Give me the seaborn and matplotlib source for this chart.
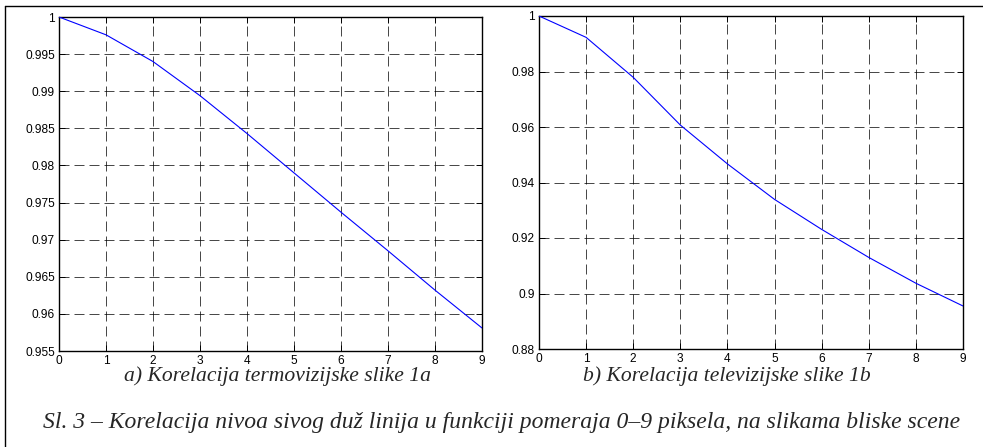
import numpy as np
import pandas as pd
import matplotlib
matplotlib.use("Agg")
import matplotlib.pyplot as plt
import seaborn as sns
from matplotlib.lines import Line2D
from matplotlib.ticker import FuncFormatter

sns.set_theme(style="white")
plt.rcParams['font.family'] = ['Liberation Sans', 'DejaVu Sans']

# Data
shift = [0, 1, 2, 3, 4, 5, 6, 7, 8, 9]
corr_thermal = [1.0, 0.9976, 0.9940, 0.9894, 0.9843, 0.9790, 0.9737, 0.9685, 0.9632, 0.9581]
corr_tv = [1.0, 0.9923, 0.9779, 0.9607, 0.9467, 0.9339, 0.9231, 0.9130, 0.9037, 0.8955]

yticks_a = [0.955, 0.96, 0.965, 0.97, 0.975, 0.98, 0.985, 0.99, 0.995, 1.0]
yticks_b = [0.88, 0.9, 0.92, 0.94, 0.96, 0.98, 1.0]
xticks = [0, 1, 2, 3, 4, 5, 6, 7, 8, 9]

caption_a = "a) Korelacija termovizijske slike 1a"
caption_b = "b) Korelacija televizijske slike 1b"
caption_main = "Sl. 3 – Korelacija nivoa sivog duž linija u funkciji pomeraja 0–9 piksela, na slikama bliske scene"

df_a = pd.DataFrame({"x": shift, "y": corr_thermal})
df_b = pd.DataFrame({"x": shift, "y": corr_tv})

W, H = 983, 447
fig = plt.figure(figsize=(W / 100, H / 100), dpi=100)
fig.patch.set_facecolor("white")

def rect(x0, x1, ytop, ybot):
    return [x0 / W, 1 - ybot / H, (x1 - x0) / W, (ybot - ytop) / H]

ax_a = fig.add_axes(rect(59, 482, 17, 351))
ax_b = fig.add_axes(rect(539, 963, 16, 349))

fmt = FuncFormatter(lambda v, p: ("%g" % round(v, 6)))

for ax, df, yt in [(ax_a, df_a, yticks_a), (ax_b, df_b, yticks_b)]:
    sns.lineplot(data=df, x="x", y="y", ax=ax, color="#0000ff", linewidth=0.8, zorder=3)
    ax.set_xlim(0, 9)
    ax.set_ylim(yt[0], yt[-1])
    ax.set_xticks(xticks)
    ax.set_yticks(yt)
    ax.yaxis.set_major_formatter(fmt)
    ax.set_xlabel("")
    ax.set_ylabel("")
    ax.grid(True, color="black", linestyle=(0, (12, 6)), linewidth=0.6, alpha=0.85)
    ax.tick_params(direction="in", length=4, width=0.7, top=True, right=True,
                   bottom=True, left=True, labelsize=8.6, pad=3, colors="black")
    for s in ax.spines.values():
        s.set_color("black")
        s.set_linewidth(1.0)
        s.set_visible(True)
    ax.set_facecolor("white")

serif = ['Liberation Serif', 'DejaVu Serif']
fig.text(278 / W, 1 - 381 / H, caption_a, ha="center", va="baseline",
         fontsize=15.6, style="italic", family=serif)
fig.text(727 / W, 1 - 381 / H, caption_b, ha="center", va="baseline",
         fontsize=15.6, style="italic", family=serif)
fig.text(502 / W, 1 - 428 / H, caption_main, ha="center", va="baseline",
         fontsize=17, style="italic", family=serif)

# outer frame (left and top edges)
fig.add_artist(Line2D([5 / W, 5 / W], [0, 1 - 6 / H], color="black", linewidth=1.0,
                      transform=fig.transFigure))
fig.add_artist(Line2D([5 / W, 1], [1 - 6 / H, 1 - 6 / H], color="black", linewidth=1.0,
                      transform=fig.transFigure))

fig.savefig("out.png", dpi=100, facecolor="white")
